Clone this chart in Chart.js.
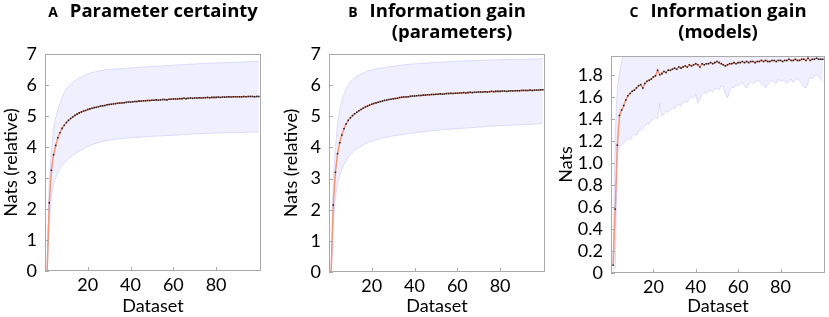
<!DOCTYPE html>
<html>
<head>
<meta charset="utf-8">
<script src="https://cdn.jsdelivr.net/npm/chart.js@4.4.0/dist/chart.umd.min.js"></script>
<style>
  body { margin: 0; background: #fff; }
  #wrap { position: relative; width: 829px; height: 317px; }
  canvas { position: absolute; top: 0; }
</style>
</head>
<body>
<div id="wrap">
  <canvas id="chartA" width="280" height="317" style="left:0px"></canvas>
  <canvas id="chartB" width="275" height="317" style="left:280px"></canvas>
  <canvas id="chartC" width="274" height="317" style="left:555px"></canvas>
</div>
<script>
// dataset number (x axis)
const datasetNo = [
  1, 2, 3, 4, 5, 6, 7, 8, 9, 10, 11, 12, 13, 14, 15, 16, 17, 18, 19, 20,
  21, 22, 23, 24, 25, 26, 27, 28, 29, 30, 31, 32, 33, 34, 35, 36, 37, 38, 39, 40,
  41, 42, 43, 44, 45, 46, 47, 48, 49, 50, 51, 52, 53, 54, 55, 56, 57, 58, 59, 60,
  61, 62, 63, 64, 65, 66, 67, 68, 69, 70, 71, 72, 73, 74, 75, 76, 77, 78, 79, 80,
  81, 82, 83, 84, 85, 86, 87, 88, 89, 90, 91, 92, 93, 94, 95, 96, 97, 98, 99, 100,
];
const xTickVals = [20, 40, 60, 80];
const xTickLabels = ["20", "40", "60", "80"];

// A - parameter certainty
const meanA = [
  0, 2.2, 3.25, 3.75, 4.05, 4.3, 4.46, 4.6, 4.7, 4.79,
  4.86, 4.92, 4.97, 5.02, 5.06, 5.1, 5.13, 5.16, 5.18, 5.21,
  5.23, 5.25, 5.27, 5.28, 5.3, 5.32, 5.33, 5.34, 5.36, 5.37,
  5.38, 5.39, 5.4, 5.41, 5.42, 5.42, 5.43, 5.44, 5.45, 5.45,
  5.46, 5.47, 5.47, 5.48, 5.48, 5.49, 5.49, 5.5, 5.5, 5.51,
  5.51, 5.52, 5.51, 5.52, 5.53, 5.53, 5.52, 5.54, 5.54, 5.55,
  5.55, 5.55, 5.56, 5.56, 5.57, 5.56, 5.57, 5.58, 5.57, 5.58,
  5.58, 5.59, 5.58, 5.59, 5.59, 5.6, 5.59, 5.6, 5.6, 5.6,
  5.61, 5.6, 5.61, 5.61, 5.61, 5.62, 5.61, 5.62, 5.62, 5.62,
  5.62, 5.62, 5.63, 5.62, 5.63, 5.63, 5.63, 5.62, 5.63, 5.63,
];
const upperA = [
  0, 2.9, 3.9, 4.6, 4.95, 5.2, 5.4, 5.6, 5.75, 5.87,
  5.95, 6.02, 6.08, 6.13, 6.18, 6.22, 6.26, 6.3, 6.33, 6.36,
  6.38, 6.4, 6.42, 6.43, 6.45, 6.46, 6.47, 6.48, 6.5, 6.5,
  6.51, 6.51, 6.52, 6.52, 6.53, 6.53, 6.54, 6.54, 6.55, 6.55,
  6.56, 6.56, 6.57, 6.57, 6.58, 6.58, 6.59, 6.59, 6.6, 6.6,
  6.6, 6.61, 6.61, 6.61, 6.62, 6.62, 6.63, 6.63, 6.63, 6.64,
  6.64, 6.65, 6.65, 6.65, 6.66, 6.66, 6.67, 6.67, 6.67, 6.68,
  6.68, 6.69, 6.69, 6.69, 6.7, 6.7, 6.7, 6.71, 6.71, 6.71,
  6.72, 6.72, 6.72, 6.72, 6.73, 6.73, 6.73, 6.73, 6.74, 6.74,
  6.74, 6.74, 6.75, 6.75, 6.75, 6.75, 6.76, 6.76, 6.76, 6.76,
];
const lowerA = [
  0, 1.5, 2.4, 2.8, 3.0, 3.15, 3.3, 3.4, 3.48, 3.55,
  3.62, 3.68, 3.73, 3.78, 3.82, 3.86, 3.9, 3.94, 3.98, 4.02,
  4.05, 4.08, 4.1, 4.12, 4.14, 4.16, 4.18, 4.2, 4.21, 4.22,
  4.23, 4.24, 4.25, 4.26, 4.27, 4.27, 4.28, 4.29, 4.29, 4.3,
  4.3, 4.31, 4.31, 4.32, 4.32, 4.33, 4.33, 4.34, 4.34, 4.35,
  4.35, 4.35, 4.36, 4.36, 4.36, 4.37, 4.37, 4.37, 4.38, 4.38,
  4.38, 4.39, 4.39, 4.4, 4.4, 4.4, 4.41, 4.41, 4.42, 4.42,
  4.42, 4.43, 4.43, 4.43, 4.44, 4.44, 4.44, 4.44, 4.45, 4.45,
  4.45, 4.45, 4.45, 4.46, 4.46, 4.46, 4.46, 4.46, 4.47, 4.47,
  4.47, 4.47, 4.47, 4.48, 4.48, 4.48, 4.48, 4.48, 4.49, 4.49,
];
const yTickValsA = [0, 1, 2, 3, 4, 5, 6, 7];
const yTickLabelsA = ["0", "1", "2", "3", "4", "5", "6", "7"];

// B - information gain (parameters)
const meanB = [
  0, 2.15, 3.2, 3.8, 4.15, 4.4, 4.6, 4.75, 4.87, 4.95,
  5.02, 5.08, 5.13, 5.18, 5.22, 5.26, 5.3, 5.33, 5.36, 5.39,
  5.41, 5.43, 5.45, 5.47, 5.49, 5.51, 5.52, 5.54, 5.55, 5.56,
  5.57, 5.58, 5.6, 5.61, 5.62, 5.62, 5.63, 5.64, 5.65, 5.65,
  5.66, 5.67, 5.67, 5.68, 5.68, 5.69, 5.69, 5.7, 5.7, 5.71,
  5.71, 5.72, 5.71, 5.72, 5.73, 5.73, 5.74, 5.73, 5.74, 5.74,
  5.75, 5.75, 5.76, 5.75, 5.76, 5.77, 5.76, 5.77, 5.77, 5.78,
  5.78, 5.78, 5.79, 5.78, 5.79, 5.8, 5.79, 5.8, 5.8, 5.8,
  5.81, 5.81, 5.8, 5.81, 5.82, 5.81, 5.82, 5.82, 5.82, 5.83,
  5.83, 5.83, 5.83, 5.84, 5.83, 5.84, 5.84, 5.84, 5.85, 5.85,
];
const upperB = [
  0, 2.9, 4.0, 4.75, 5.2, 5.5, 5.72, 5.88, 6.0, 6.1,
  6.17, 6.23, 6.28, 6.32, 6.36, 6.39, 6.42, 6.45, 6.47, 6.49,
  6.51, 6.52, 6.54, 6.55, 6.56, 6.57, 6.58, 6.59, 6.6, 6.61,
  6.62, 6.63, 6.63, 6.64, 6.65, 6.66, 6.66, 6.67, 6.68, 6.68,
  6.69, 6.69, 6.7, 6.7, 6.71, 6.71, 6.72, 6.72, 6.73, 6.73,
  6.74, 6.74, 6.74, 6.75, 6.75, 6.75, 6.76, 6.76, 6.76, 6.77,
  6.77, 6.77, 6.78, 6.78, 6.78, 6.78, 6.79, 6.79, 6.79, 6.79,
  6.8, 6.8, 6.8, 6.8, 6.8, 6.81, 6.81, 6.81, 6.81, 6.81,
  6.82, 6.82, 6.82, 6.82, 6.82, 6.82, 6.83, 6.83, 6.83, 6.83,
  6.83, 6.83, 6.84, 6.84, 6.84, 6.84, 6.84, 6.84, 6.85, 6.85,
];
const lowerB = [
  0, 1.5, 2.4, 2.85, 3.1, 3.3, 3.45, 3.58, 3.68, 3.77,
  3.84, 3.9, 3.95, 4.0, 4.04, 4.08, 4.12, 4.15, 4.18, 4.2,
  4.22, 4.24, 4.26, 4.28, 4.3, 4.31, 4.33, 4.34, 4.36, 4.37,
  4.38, 4.39, 4.4, 4.41, 4.42, 4.43, 4.44, 4.45, 4.46, 4.47,
  4.48, 4.49, 4.5, 4.5, 4.51, 4.52, 4.53, 4.53, 4.54, 4.55,
  4.55, 4.56, 4.57, 4.57, 4.58, 4.58, 4.59, 4.59, 4.6, 4.6,
  4.61, 4.61, 4.62, 4.62, 4.63, 4.63, 4.64, 4.64, 4.65, 4.65,
  4.66, 4.66, 4.67, 4.67, 4.68, 4.68, 4.68, 4.69, 4.69, 4.7,
  4.7, 4.7, 4.71, 4.71, 4.71, 4.72, 4.72, 4.72, 4.73, 4.73,
  4.73, 4.74, 4.74, 4.74, 4.75, 4.75, 4.75, 4.76, 4.76, 4.76,
];
const yTickValsB = [0, 1, 2, 3, 4, 5, 6, 7];
const yTickLabelsB = ["0", "1", "2", "3", "4", "5", "6", "7"];

// C - information gain (models)
const meanC = [
  0.07, 0.58, 1.16, 1.43, 1.48, 1.52, 1.57, 1.61, 1.63, 1.65,
  1.66, 1.68, 1.7, 1.71, 1.68, 1.72, 1.74, 1.75, 1.76, 1.78,
  1.79, 1.84, 1.8, 1.81, 1.83, 1.82, 1.84, 1.84, 1.85, 1.86,
  1.85, 1.87, 1.86, 1.87, 1.88, 1.87, 1.89, 1.88, 1.89, 1.9,
  1.89, 1.87, 1.9, 1.89, 1.9, 1.9, 1.91, 1.9, 1.91, 1.92,
  1.91, 1.9, 1.89, 1.88, 1.89, 1.9, 1.9, 1.91, 1.9, 1.91,
  1.91, 1.92, 1.91, 1.92, 1.91, 1.92, 1.92, 1.91, 1.92, 1.92,
  1.93, 1.92, 1.93, 1.92, 1.92, 1.93, 1.93, 1.92, 1.93, 1.93,
  1.92, 1.93, 1.93, 1.94, 1.93, 1.93, 1.94, 1.93, 1.93, 1.94,
  1.94, 1.93, 1.95, 1.93, 1.94, 1.94, 1.95, 1.94, 1.94, 1.94,
];
const upperC = [
  0.12, 1.25, 1.68, 1.82, 1.92, 2.0, 2.05, 2.08, 2.1, 2.12,
  2.13, 2.14, 2.15, 2.16, 2.17, 2.18, 2.18, 2.19, 2.2, 2.2,
  2.21, 2.22, 2.22, 2.23, 2.23, 2.24, 2.24, 2.25, 2.25, 2.25,
  2.26, 2.26, 2.26, 2.27, 2.27, 2.27, 2.27, 2.28, 2.28, 2.28,
  2.28, 2.28, 2.29, 2.29, 2.29, 2.29, 2.29, 2.29, 2.3, 2.3,
  2.3, 2.3, 2.3, 2.3, 2.3, 2.3, 2.3, 2.3, 2.3, 2.3,
  2.3, 2.3, 2.3, 2.3, 2.3, 2.3, 2.3, 2.3, 2.3, 2.3,
  2.3, 2.3, 2.3, 2.3, 2.3, 2.3, 2.3, 2.3, 2.3, 2.3,
  2.3, 2.3, 2.3, 2.3, 2.3, 2.3, 2.3, 2.3, 2.3, 2.3,
  2.3, 2.3, 2.3, 2.3, 2.3, 2.3, 2.3, 2.3, 2.3, 2.3,
];
const lowerC = [
  0.02, 0.05, 1.1, 1.14, 1.16, 1.18, 1.2, 1.22, 1.21, 1.24,
  1.26, 1.25, 1.29, 1.3, 1.31, 1.33, 1.36, 1.35, 1.38, 1.4,
  1.42, 1.4, 1.54, 1.42, 1.45, 1.47, 1.46, 1.48, 1.5, 1.49,
  1.52, 1.53, 1.51, 1.55, 1.56, 1.55, 1.58, 1.6, 1.59, 1.62,
  1.54, 1.58, 1.62, 1.64, 1.63, 1.65, 1.66, 1.64, 1.67, 1.68,
  1.66, 1.7, 1.69, 1.62, 1.59, 1.65, 1.69, 1.68, 1.71, 1.7,
  1.72, 1.73, 1.7, 1.68, 1.71, 1.74, 1.72, 1.73, 1.75, 1.74,
  1.72, 1.7, 1.68, 1.71, 1.73, 1.75, 1.73, 1.72, 1.76, 1.74,
  1.75, 1.74, 1.72, 1.74, 1.76, 1.73, 1.75, 1.77, 1.74, 1.72,
  1.69, 1.68, 1.73, 1.78, 1.76, 1.79, 1.8, 1.78, 1.76, 1.74,
];
const yTickValsC = [0, 0.2, 0.4, 0.6, 0.8, 1.0, 1.2, 1.4, 1.6, 1.8];
const yTickLabelsC = ["0", "0.2", "0.4", "0.6", "0.8", "1.0", "1.2", "1.4", "1.6", "1.8"];

const FONT = "Lato";
const TITLE_FONT = "'Open Sans'";
const txt = { family: FONT, size: 18 };

// box around the plot + small inward tick marks
const framePlugin = {
  id: "frame",
  afterDatasetsDraw(chart) {
    const { ctx, chartArea: a, scales } = chart;
    ctx.save();
    ctx.strokeStyle = "#aaaaaa";
    ctx.lineWidth = 1;
    ctx.strokeRect(a.left + 0.5, a.top + 0.5, a.width - 1, a.height - 1);
    ctx.beginPath();
    scales.y.ticks.forEach((t) => {
      const y = Math.round(scales.y.getPixelForValue(t.value)) + 0.5;
      ctx.moveTo(a.left, y);
      ctx.lineTo(a.left + 4, y);
    });
    scales.x.ticks.forEach((t) => {
      const x = Math.round(scales.x.getPixelForValue(t.value)) + 0.5;
      ctx.moveTo(x, a.bottom);
      ctx.lineTo(x, a.bottom - 4);
    });
    ctx.stroke();
    ctx.restore();
  },
};

// panel title: small bold letter + bold title, optional second line
const titlePlugin = {
  id: "panelTitle",
  afterDraw(chart, args, opts) {
    const ctx = chart.ctx;
    const a = chart.chartArea;
    const mid = (a.left + a.right) / 2;
    ctx.save();
    ctx.fillStyle = "#000";
    ctx.textBaseline = "middle";
    ctx.textAlign = "left";
    ctx.font = "bold 14px " + TITLE_FONT;
    const lw = ctx.measureText(opts.letter).width;
    ctx.font = "bold 18.5px " + TITLE_FONT;
    const tw = ctx.measureText(opts.lines[0]).width;
    const gap = 12;
    let x = mid - (lw + gap + tw) / 2;
    ctx.font = "bold 14px " + TITLE_FONT;
    ctx.fillText(opts.letter, x, 13);
    ctx.font = "bold 18.5px " + TITLE_FONT;
    ctx.fillText(opts.lines[0], x + lw + gap, 12);
    if (opts.lines[1]) {
      ctx.textAlign = "center";
      ctx.fillText(opts.lines[1], mid + (opts.shift || 0), 33);
    }
    ctx.restore();
  },
};

function makePanel(id, p) {
  const ctx = document.getElementById(id);
  return new Chart(ctx, {
    type: "line",
    data: {
      labels: datasetNo,
      datasets: [
        {
          data: p.mean,
          borderColor: "rgb(240, 150, 125)",
          borderWidth: 1.5,
          pointStyle: "rect",
          pointRadius: 1.1,
          pointBackgroundColor: "#2a1c1c",
          pointBorderWidth: 0,
          tension: 0,
          fill: false,
        },
        {
          data: p.lower,
          borderColor: "rgba(200, 200, 250, 0.6)",
          borderWidth: 1,
          pointRadius: 0,
          fill: false,
        },
        {
          data: p.upper,
          borderColor: "rgba(200, 200, 250, 0.6)",
          borderWidth: 1,
          pointRadius: 0,
          backgroundColor: "rgba(215, 215, 252, 0.4)",
          fill: "-1",
        },
      ],
    },
    options: {
      responsive: false,
      animation: false,
      devicePixelRatio: 1,
      layout: { padding: { top: p.top, right: p.right, left: 0, bottom: 0 } },
      plugins: {
        legend: { display: false },
        tooltip: { enabled: false },
        panelTitle: { letter: p.letter, lines: p.title, shift: p.shift },
      },
      scales: {
        x: {
          type: "linear",
          min: 0,
          max: 101,
          afterBuildTicks: (s) => {
            s.ticks = xTickVals.map((v) => ({ value: v }));
          },
          afterFit: (s) => {
            s.height = p.xHeight;
          },
          ticks: {
            callback: (v, i) => xTickLabels[i],
            font: txt,
            color: "#000",
            padding: 3,
            maxRotation: 0,
            autoSkip: false,
          },
          grid: { display: false, drawTicks: false },
          border: { display: false },
          title: { display: true, text: "Dataset", font: txt, color: "#000", padding: 0 },
        },
        y: {
          min: 0,
          max: p.ymax,
          afterBuildTicks: (s) => {
            s.ticks = p.yVals.map((v) => ({ value: v }));
          },
          afterFit: (s) => {
            s.width = p.yWidth;
          },
          ticks: {
            callback: (v, i) => p.yLabels[i],
            font: txt,
            color: "#000",
            padding: 8,
            autoSkip: false,
          },
          grid: { display: false, drawTicks: false },
          border: { display: false },
          title: { display: true, text: p.yTitle, font: txt, color: "#000", padding: 0 },
        },
      },
    },
    plugins: [framePlugin, titlePlugin],
  });
}

makePanel("chartA", {
  mean: meanA, upper: upperA, lower: lowerA,
  yVals: yTickValsA, yLabels: yTickLabelsA, ymax: 7,
  yTitle: "Nats (relative)",
  letter: "A", title: ["Parameter certainty"],
  top: 54, right: 19, yWidth: 45, xHeight: 46,
});
makePanel("chartB", {
  mean: meanB, upper: upperB, lower: lowerB,
  yVals: yTickValsB, yLabels: yTickLabelsB, ymax: 7,
  yTitle: "Nats (relative)",
  letter: "B", title: ["Information gain", "(parameters)"], shift: 15,
  top: 54, right: 10, yWidth: 49, xHeight: 45,
});
makePanel("chartC", {
  mean: meanC, upper: upperC, lower: lowerC,
  yVals: yTickValsC, yLabels: yTickLabelsC, ymax: 1.97,
  yTitle: "Nats",
  letter: "C", title: ["Information gain", "(models)"],
  top: 56, right: 3, yWidth: 56, xHeight: 44,
});
</script>
</body>
</html>
